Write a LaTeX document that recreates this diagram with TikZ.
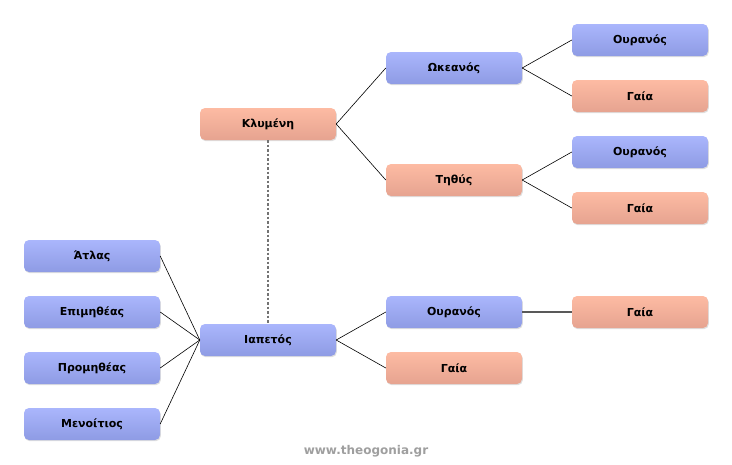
\documentclass[tikz,border=0pt]{standalone}
\usepackage{fontspec}
\setmainfont{DejaVu Sans}
\usetikzlibrary{shadows}
\definecolor{bluetop}{HTML}{AAB6FC}
\definecolor{bluebot}{HTML}{8E9BE4}
\definecolor{salmtop}{HTML}{FDBBA3}
\definecolor{salmbot}{HTML}{E6A390}
\tikzset{
  godbox/.style={rectangle,rounded corners=5pt,minimum width=136pt,minimum height=32pt,
    inner sep=0pt,font=\fontsize{11}{13}\selectfont\bfseries,
    drop shadow={opacity=0.25,shadow xshift=0.8pt,shadow yshift=-1.2pt}},
  male/.style={godbox,top color=bluetop,bottom color=bluebot},
  female/.style={godbox,top color=salmtop,bottom color=salmbot},
  link/.style={black,line width=0.6pt}
}
\begin{document}
\begin{tikzpicture}[x=1pt,y=-1pt]
\useasboundingbox[fill=white] (0,0) rectangle (732,464);
\node[male] (atlas) at (92,256) {Άτλας};
\node[male] (epim) at (92,312) {Επιμηθέας};
\node[male] (prom) at (92,368) {Προμηθέας};
\node[male] (menoit) at (92,424) {Μενοίτιος};
\node[male] (iapetos) at (268,340) {Ιαπετός};
\node[female] (klymeni) at (268,124) {Κλυμένη};
\node[male] (okeanos) at (454,68) {Ωκεανός};
\node[female] (tithys) at (454,180) {Τηθύς};
\node[male] (ouranosB) at (454,312) {Ουρανός};
\node[female] (gaiaB) at (454,368) {Γαία};
\node[male] (ouranosO) at (640,40) {Ουρανός};
\node[female] (gaiaO) at (640,96) {Γαία};
\node[male] (ouranosT) at (640,152) {Ουρανός};
\node[female] (gaiaT) at (640,208) {Γαία};
\node[female] (gaiaU) at (640,312) {Γαία};

\draw[gray!90!black,line width=1.6pt,dash pattern=on 2.5pt off 2pt] (klymeni.south) -- (iapetos.north);
\foreach \k in {atlas,epim,prom,menoit}
  \draw[link] (\k.east) -- (iapetos.west);
\foreach \k in {okeanos,tithys}
  \draw[link] (klymeni.east) -- (\k.west);
\draw[link] (okeanos.east) -- (ouranosO.west);
\draw[link] (okeanos.east) -- (gaiaO.west);
\draw[link] (tithys.east) -- (ouranosT.west);
\draw[link] (tithys.east) -- (gaiaT.west);
\draw[link] (iapetos.east) -- (ouranosB.west);
\draw[link] (iapetos.east) -- (gaiaB.west);
\draw[gray!70!black,line width=1.2pt] (ouranosB.east) -- (gaiaU.west);

\node[font=\fontsize{12}{14}\selectfont\bfseries,text=white] at (366.8,451.8) {www.theogonia.gr};
\node[font=\fontsize{12}{14}\selectfont\bfseries,text=gray!75] (site) at (366,451) {www.theogonia.gr};
\end{tikzpicture}
\end{document}
